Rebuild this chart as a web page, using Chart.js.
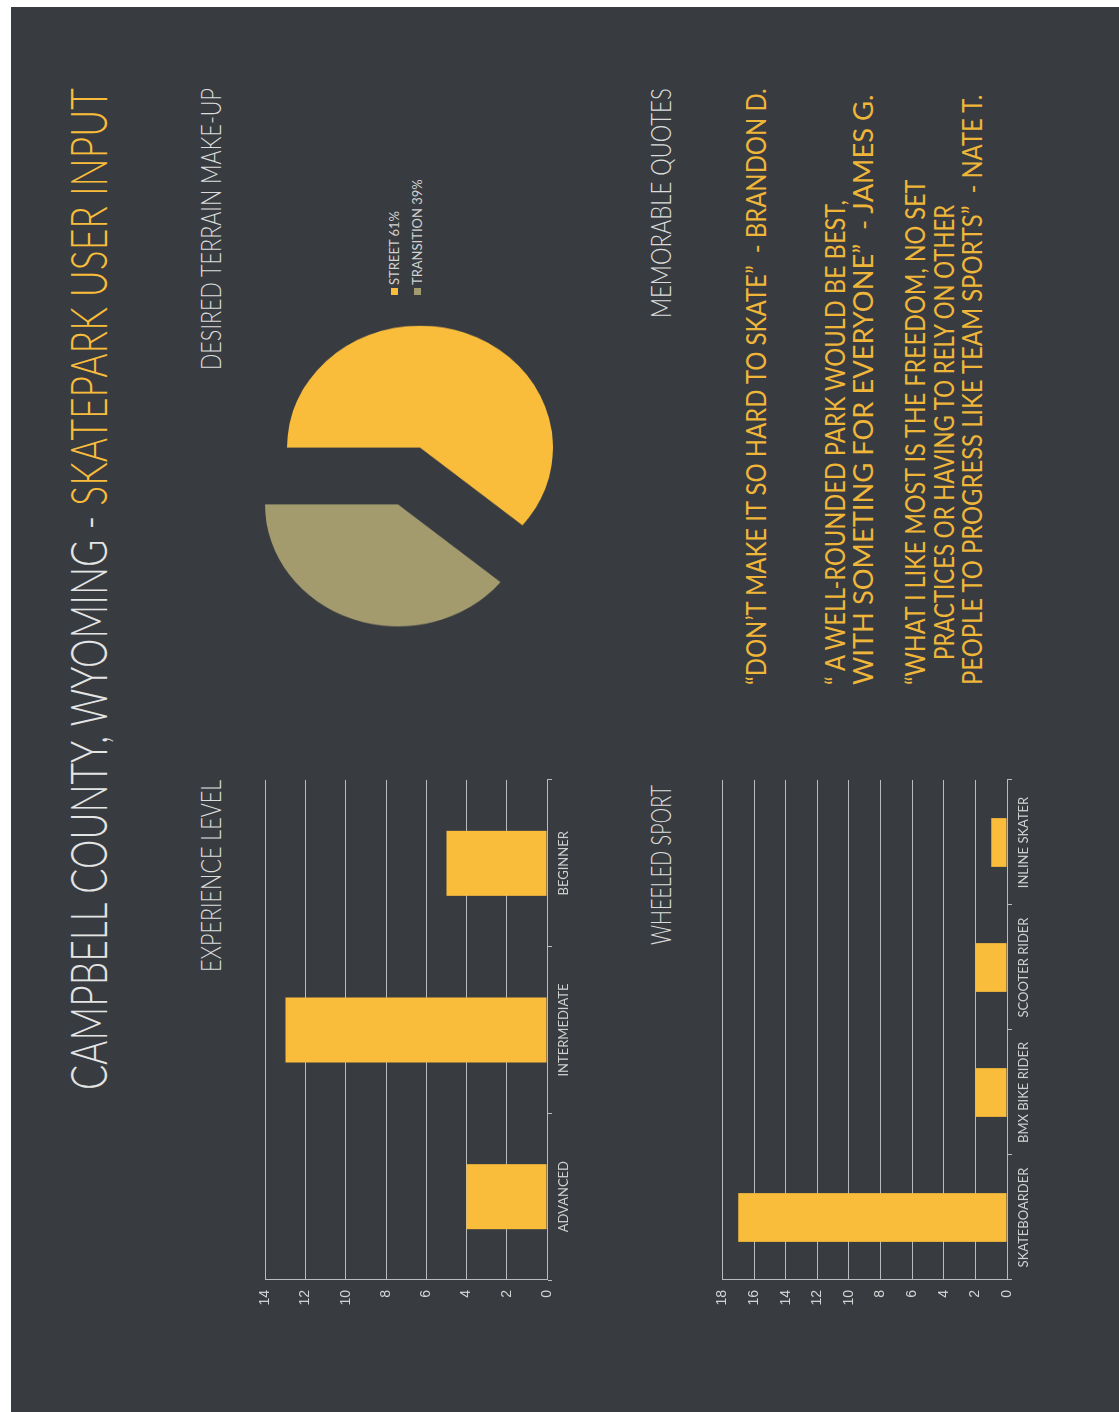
<!DOCTYPE html>
<html>
<head>
<meta charset="utf-8">
<script src="https://cdn.jsdelivr.net/npm/chart.js@4.4.0/dist/chart.umd.min.js"></script>
<style>
html, body { margin: 0; padding: 0; width: 1119px; height: 1412px; overflow: hidden; background: #fff; }
#paper { position: absolute; left: 11px; top: 7px; right: 0; bottom: 0; background: #383c41; }
/* poster is laid out landscape, then turned a quarter to the left */
#page {
    position: absolute; left: 0; top: 0; width: 1412px; height: 1119px;
    transform-origin: 0 0; transform: translate(0, 1412px) rotate(-90deg);
    font-family: Lato, "Open Sans", sans-serif; font-weight: 300;
}
.t { position: absolute; white-space: pre; line-height: 1; transform-origin: 0 0; }
.q { font-weight: 400; }
canvas { position: absolute; }
#pie { position: absolute; width: 0; height: 0; }
.leg { position: absolute; font-family: Lato, sans-serif; font-weight: 400; font-size: 13px; color: #d2d2d2; line-height: 1; white-space: pre; }
.leg i { display: inline-block; width: 7px; height: 7px; margin-right: 3px; vertical-align: 1px; }
</style>
</head>
<body>
<div id="paper"></div>
<div id="page">
    <canvas id="expChart" width="549" height="340" style="left:89px;top:247px"></canvas>
    <canvas id="sportChart" width="549" height="343" style="left:89px;top:704px"></canvas>
    <div id="pie"></div>
    <div id="legend"></div>
</div>

<script>
// ========== DATA ==========
const expLabels = ['ADVANCED', 'INTERMEDIATE', 'BEGINNER'];
const expValues = [4, 13, 5];
const expMax = 14;

const sportLabels = ['SKATEBOARDER', 'BMX BIKE RIDER', 'SCOOTER RIDER', 'INLINE SKATER'];
const sportValues = [17, 2, 2, 1];
const sportMax = 18;

const terrainLabels = ['STREET', 'TRANSITION'];
const terrainValues = [61, 39];

const tickStep = 2;

// ========== COLOURS ==========
const YELLOW = '#f9bc3b';
const KHAKI = '#a39b6d';
const QUOTE = '#efb63a';
const GRID = '#b9bbbc';
const LABEL = '#cfcfcf';

// ========== TEXT ==========
const page = document.getElementById('page');

// x = left edge, capTop = top of capitals, capH = cap height, w = width to fit
function txt(html, x, capTop, capH, w, color, cls) {
    const fs = capH / 0.7165;
    const el = document.createElement('div');
    el.className = 't' + (cls ? ' ' + cls : '');
    el.innerHTML = html;
    el.style.fontSize = fs + 'px';
    el.style.left = x + 'px';
    el.style.top = (capTop - fs * 0.17) + 'px';
    el.style.color = color;
    el.dataset.w = w;
    page.appendChild(el);
    return el;
}

txt('CAMPBELL COUNTY, WYOMING - <span style="color:' + YELLOW + '">SKATEPARK USER INPUT</span>',
    322, 71, 37, 1002, '#e4e4e4');

txt('EXPERIENCE LEVEL', 440, 203, 19, 192, '#dcdcdc');
txt('WHEELED SPORT', 467, 653, 19, 160, '#dcdcdc');
txt('DESIRED TERRAIN MAKE-UP', 1042, 203, 19, 282, '#dcdcdc');
txt('MEMORABLE QUOTES', 1094, 653, 19, 230, '#dcdcdc');

txt('\u201cDON\u2019T MAKE IT SO HARD TO SKATE\u201d  - BRANDON D.', 727, 747, 20, 597, QUOTE, 'q');
txt('\u201c A WELL-ROUNDED PARK WOULD BE BEST,', 727, 826, 20, 485, QUOTE, 'q');
txt('WITH SOMETING FOR EVERYONE\u201d  - JAMES G.', 727, 854, 20, 590, QUOTE, 'q');
txt('\u201cWHAT I LIKE MOST IS THE FREEDOM, NO SET', 727, 906, 20, 505, QUOTE, 'q');
txt('PRACTICES OR HAVING TO RELY ON OTHER', 752, 935, 20, 455, QUOTE, 'q');
txt('PEOPLE TO PROGRESS LIKE TEAM SPORTS\u201d  - NATE T.', 727, 963, 20, 590, QUOTE, 'q');

function fitTexts() {
    document.querySelectorAll('.t').forEach(el => {
        const natural = el.offsetWidth;
        if (natural > 0) el.style.transform = 'scaleX(' + (el.dataset.w / natural) + ')';
    });
}

// ========== BAR CHARTS ==========
function createBarChart(id, labels, values, max) {
    const ctx = document.getElementById(id);
    return new Chart(ctx, {
        type: 'bar',
        data: {
            labels: labels,
            datasets: [{
                data: values,
                backgroundColor: YELLOW,
                barPercentage: 0.39,
                categoryPercentage: 1
            }]
        },
        options: {
            responsive: false,
            animation: false,
            layout: { padding: { top: 10, right: 6, left: 0, bottom: 0 } },
            plugins: {
                legend: { display: false },
                tooltip: { enabled: false }
            },
            scales: {
                x: {
                    grid: { display: true, drawOnChartArea: false, drawTicks: true, tickLength: 5, color: GRID, offset: true },
                    border: { color: GRID },
                    ticks: { color: LABEL, font: { family: 'Lato', size: 13 }, padding: 4, maxRotation: 0, autoSkip: false },
                    afterFit: s => { s.height = 40; }
                },
                y: {
                    min: 0,
                    max: max,
                    ticks: { stepSize: tickStep, color: '#d4d4d4', font: { family: 'Liberation Sans', size: 14 }, padding: 10 },
                    grid: { color: GRID, drawTicks: false },
                    border: { color: GRID },
                    afterFit: s => { s.width = 43; }
                }
            }
        }
    });
}

// ========== PIE (exploded, two layers) ==========
const pieR = 133;
const explode = 33;
const pieColors = [YELLOW, KHAKI];

function createPie() {
    const box = document.getElementById('pie');
    box.style.left = '936px';
    box.style.top = '409px';
    box.style.transform = 'scaleX(0.917)';

    const total = terrainValues.reduce((a, b) => a + b, 0);
    let cum = 0;
    terrainValues.forEach((v, i) => {
        const mid = -Math.PI / 2 + 2 * Math.PI * (cum + v / 2) / total;
        cum += v;
        const cv = document.createElement('canvas');
        cv.width = pieR * 2;
        cv.height = pieR * 2;
        cv.style.left = (Math.cos(mid) * explode - pieR) + 'px';
        cv.style.top = (Math.sin(mid) * explode - pieR) + 'px';
        box.appendChild(cv);

        new Chart(cv, {
            type: 'pie',
            data: {
                labels: terrainLabels,
                datasets: [{
                    data: terrainValues,
                    backgroundColor: terrainValues.map((_, j) => j === i ? pieColors[j] : 'rgba(0,0,0,0)'),
                    borderWidth: 0
                }]
            },
            options: {
                responsive: false,
                animation: false,
                layout: { padding: 0 },
                plugins: { legend: { display: false }, tooltip: { enabled: false } }
            }
        });
    });

    // legend
    const leg = document.getElementById('legend');
    terrainLabels.forEach((lab, i) => {
        const row = document.createElement('div');
        row.className = 'leg';
        row.style.left = '1117px';
        row.style.top = (388 + i * 23) + 'px';
        row.innerHTML = '<i style="background:' + pieColors[i] + '"></i>' + lab + ' ' + terrainValues[i] + '%';
        leg.appendChild(row);
    });
}

document.fonts.ready.then(() => {
    fitTexts();
    createBarChart('expChart', expLabels, expValues, expMax);
    createBarChart('sportChart', sportLabels, sportValues, sportMax);
    createPie();
});
</script>
</body>
</html>
